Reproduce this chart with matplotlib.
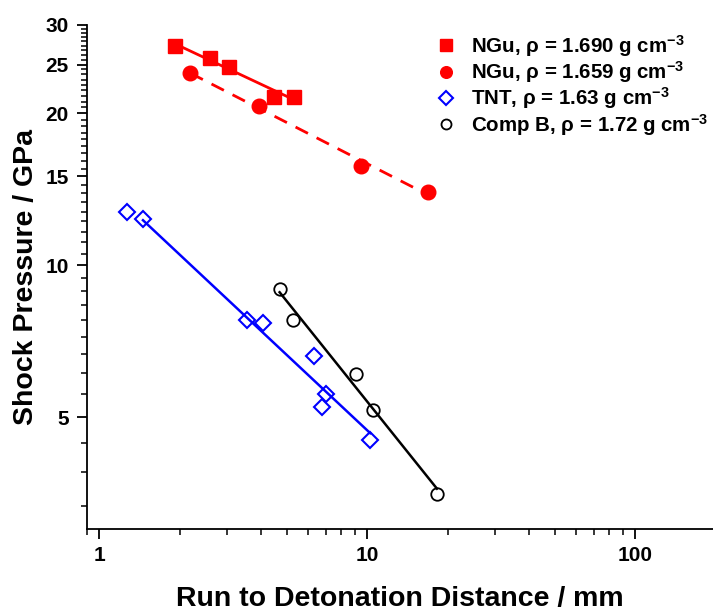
import numpy as np
import matplotlib
matplotlib.use('Agg')
import matplotlib.pyplot as plt
from matplotlib import ticker

plt.rcParams['font.family'] = ['Liberation Sans', 'DejaVu Sans']
plt.rcParams['font.weight'] = 'bold'
plt.rcParams['mathtext.fontset'] = 'custom'
plt.rcParams['mathtext.rm'] = 'Liberation Sans:bold'
plt.rcParams['mathtext.bf'] = 'Liberation Sans:bold'
plt.rcParams['mathtext.default'] = 'bf'

# run distance (mm) vs shock pressure (GPa)
ngu1690_x = [1.92, 2.60, 3.05, 4.50, 5.34]
ngu1690_p = [27.2, 25.8, 24.7, 21.6, 21.6]
ngu1690_fit = (1.92, 5.0)

ngu1659_x = [2.19, 3.96, 9.50, 16.9]
ngu1659_p = [24.0, 20.7, 15.7, 14.0]
ngu1659_fit = (2.19, 16.9)

tnt_x = [1.27, 1.456, 3.57, 4.07, 6.34, 7.01, 6.78, 10.26]
tnt_p = [12.76, 12.38, 7.80, 7.70, 6.62, 5.57, 5.25, 4.50]
tnt_fit = (1.456, 10.26)

compb_x = [4.71, 5.28, 9.10, 10.5, 18.2]
compb_p = [8.96, 7.81, 6.10, 5.18, 3.52]
compb_fit = (4.71, 18.2)

labels = ['NGu, ρ = 1.690 g cm$^{-3}$',
          'NGu, ρ = 1.659 g cm$^{-3}$',
          'TNT, ρ = 1.63 g cm$^{-3}$',
          'Comp B, ρ = 1.72 g cm$^{-3}$']


def power_fit(x, p, xr):
    # straight line in log-log space
    k, b = np.polyfit(np.log10(x), np.log10(p), 1)
    xx = np.logspace(np.log10(xr[0]), np.log10(xr[1]), 50)
    return xx, 10 ** (k * np.log10(xx) + b)


fig = plt.figure(figsize=(7.13, 6.14), dpi=100)
ax = fig.add_axes([0.122, 0.138, 0.878, 0.822])

red = '#ff0000'
blue = '#0000ff'

h1, = ax.plot(ngu1690_x, ngu1690_p, 's', color=red, ms=10, zorder=3)
ax.plot(*power_fit(ngu1690_x, ngu1690_p, ngu1690_fit), '-', color=red, lw=2)

h2, = ax.plot(ngu1659_x, ngu1659_p, 'o', color=red, ms=10.5, zorder=3)
ax.plot(*power_fit(ngu1659_x, ngu1659_p, ngu1659_fit), color=red, lw=2,
        linestyle=(0, (5, 3.5)))

h3, = ax.plot(tnt_x, tnt_p, 'D', mfc='none', mec=blue, mew=1.5, ms=8.5, zorder=3)
ax.plot(*power_fit(tnt_x, tnt_p, tnt_fit), '-', color=blue, lw=1.8)

h4, = ax.plot(compb_x, compb_p, 'o', mfc='none', mec='black', mew=1.3, ms=9, zorder=3)
ax.plot(*power_fit(compb_x, compb_p, compb_fit), '-', color='black', lw=1.8)

ax.set_xscale('log')
ax.set_yscale('log')
ax.set_xlim(0.9, 195)
ax.set_ylim(3, 30)

# axes: only left and bottom
ax.spines['top'].set_visible(False)
ax.spines['right'].set_visible(False)
for s in ['left', 'bottom']:
    ax.spines[s].set_linewidth(1.3)

ax.xaxis.set_major_locator(ticker.FixedLocator([1, 10, 100]))
ax.xaxis.set_major_formatter(ticker.FixedFormatter(['1', '10', '100']))
ax.xaxis.set_minor_locator(ticker.LogLocator(base=10, subs=np.arange(2, 10)))
ax.xaxis.set_minor_formatter(ticker.NullFormatter())

ymaj = [5, 10, 15, 20, 25, 30]
ymin = [v for v in np.arange(1, 271) * 5 / 9
        if 3 <= v <= 30 and min(abs(v - m) for m in ymaj) > 1e-6]
ax.yaxis.set_major_locator(ticker.FixedLocator(ymaj))
ax.yaxis.set_major_formatter(ticker.FixedFormatter([str(v) for v in ymaj]))
ax.yaxis.set_minor_locator(ticker.FixedLocator(ymin))
ax.yaxis.set_minor_formatter(ticker.NullFormatter())

ax.tick_params(which='major', direction='out', length=7, width=1.3, labelsize=15)
ax.tick_params(which='minor', direction='out', length=4, width=1.1)
ax.tick_params(axis='y', which='major', pad=6)
ax.tick_params(axis='x', which='major', pad=5)

ax.set_xlabel('Run to Detonation Distance / mm', fontsize=20.5, fontweight='bold', labelpad=15)
ax.set_ylabel('Shock Pressure / GPa', fontsize=20.5, fontweight='bold', labelpad=5)

leg = ax.legend([h1, h2, h3, h4], labels, loc='upper left',
                bbox_to_anchor=(0.60, 0.96), bbox_transform=fig.transFigure,
                frameon=False, fontsize=14.8, markerscale=0.8,
                handlelength=1.0, handletextpad=0.7, labelspacing=0.02,
                borderaxespad=0)

fig.savefig('out.png', dpi=100)
